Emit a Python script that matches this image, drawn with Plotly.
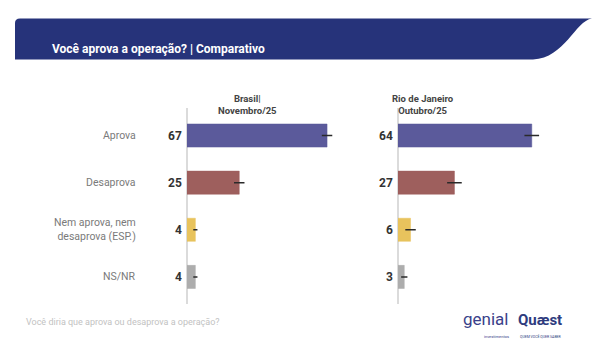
import plotly.graph_objects as go

# browser body margin is 8px; figure placed inside it
M = 8
W, H = 600 - 2 * M, 355 - 2 * M

categories = ["Aprova", "Desaprova", "Nem aprova, nem<br>desaprova (ESP.)", "NS/NR"]
brasil_values = [67, 25, 4, 4]
rio_values = [64, 27, 6, 3]
brasil_err = [2.5, 2.5, 1, 1]
rio_err = [3.5, 3.5, 2.5, 1.5]
bar_colors = ["#5b5a9b", "#9e5f5d", "#e8c35d", "#adadad"]
panel_titles = ["Brasil|<br>Novembro/25", "Rio de Janeiro<br>Outubro/25"]

def px(x):
    return (x - M) / W

def py(y):
    return 1 - (y - M) / H

fig = go.Figure()

ycat = list(range(len(categories)))

for i, (vals, err) in enumerate([(brasil_values, brasil_err), (rio_values, rio_err)]):
    xa = "x" if i == 0 else "x2"
    ya = "y" if i == 0 else "y2"
    fig.add_trace(go.Bar(
        x=vals, y=ycat, orientation="h",
        marker=dict(color=bar_colors, line=dict(color=bar_colors, width=0.5)),
        width=0.49,
        error_x=dict(type="data", array=err, visible=True, width=0,
                     thickness=1.5, color="#2a2a2a"),
        xaxis=xa, yaxis=ya, showlegend=False, hoverinfo="skip",
    ))
    for j, v in enumerate(vals):
        fig.add_annotation(x=0, y=j, xref=xa, yref=ya, text=f"<b>{v}</b>",
                           showarrow=False, xanchor="right", xshift=-3,
                           font=dict(size=12, color="#333333", family="Roboto"))

yrange = [3.56, -0.58]
fig.update_layout(
    width=W, height=H,
    margin=dict(l=0, r=0, t=0, b=0),
    paper_bgcolor="white", plot_bgcolor="white",
    bargap=0.5,
    xaxis=dict(domain=[px(187), px(337.5)], range=[0, 72], visible=False, fixedrange=True),
    xaxis2=dict(domain=[px(398), px(548.5)], range=[0, 72], visible=False, fixedrange=True),
    yaxis=dict(domain=[py(303.3), py(108.2)], range=yrange, showticklabels=False,
               showgrid=False, zeroline=False, showline=False, anchor="x"),
    yaxis2=dict(domain=[py(303.3), py(108.2)], range=yrange, showticklabels=False,
                showgrid=False, zeroline=False, showline=False, anchor="x2"),
    font=dict(family="Roboto"),
)

# vertical axis lines
for xp in [187, 398]:
    fig.add_shape(type="line", xref="paper", yref="paper",
                  x0=px(xp), x1=px(xp), y0=py(108), y1=py(304),
                  line=dict(color="#cfcfcf", width=1.5), layer="below")

# category labels
for j, c in enumerate(categories):
    fig.add_annotation(x=px(138), y=j, xref="paper", yref="y", text=c,
                       showarrow=False, xanchor="right", align="right",
                       font=dict(size=10.5, color="#7a7a7a", family="Roboto"))

# panel titles
for t, xc in zip(panel_titles, [247, 456]):
    fig.add_annotation(x=px(xc), y=py(91.5), xref="paper", yref="paper",
                       text=f"<b>{t}</b>", showarrow=False, align="center",
                       font=dict(size=9.5, color="#444444", family="Roboto"))

# banner
def P(x, y):
    return f"{px(x):.5f},{py(y):.5f}"

path = (f"M {P(15,59.5)} L {P(15,23)} Q {P(15,18.5)} {P(20,18.5)} L {P(592,18.5)} "
        f"C {P(575,21)} {P(565,58)} {P(533,59.5)} Z")
fig.add_shape(type="path", path=path, xref="paper", yref="paper",
              fillcolor="#26337a", line=dict(width=0), layer="below")
fig.add_annotation(x=px(50), y=py(40), xref="paper", yref="paper",
                   text="<b>Você aprova a operação? | Comparativo</b>",
                   showarrow=False, xanchor="left",
                   font=dict(size=12, color="white", family="Roboto"))

# footer
fig.add_annotation(x=px(24), y=py(329), xref="paper", yref="paper",
                   text="Você diria que aprova ou desaprova a operação?",
                   showarrow=False, xanchor="left",
                   font=dict(size=9, color="#c2c2c2", family="Roboto"))

# logos as text
fig.add_annotation(x=px(510), y=py(331), xref="paper", yref="paper",
                   text="genial", showarrow=False,
                   font=dict(size=17, color="#3a3f8a", family="Roboto"))
fig.add_annotation(x=px(511), y=py(340.5), xref="paper", yref="paper",
                   text="investimentos", showarrow=False,
                   font=dict(size=4, color="#3a3f8a", family="Roboto"))
fig.add_annotation(x=px(564), y=py(331), xref="paper", yref="paper",
                   text="<b>Quæst</b>", showarrow=False,
                   font=dict(size=15, color="#2e3b7e", family="Roboto"))
fig.add_annotation(x=px(564), y=py(340.5), xref="paper", yref="paper",
                   text="QUEM VOCÊ QUER SABER", showarrow=False,
                   font=dict(size=3.5, color="#2e3b7e", family="Roboto"))

fig.write_html("out.html")
